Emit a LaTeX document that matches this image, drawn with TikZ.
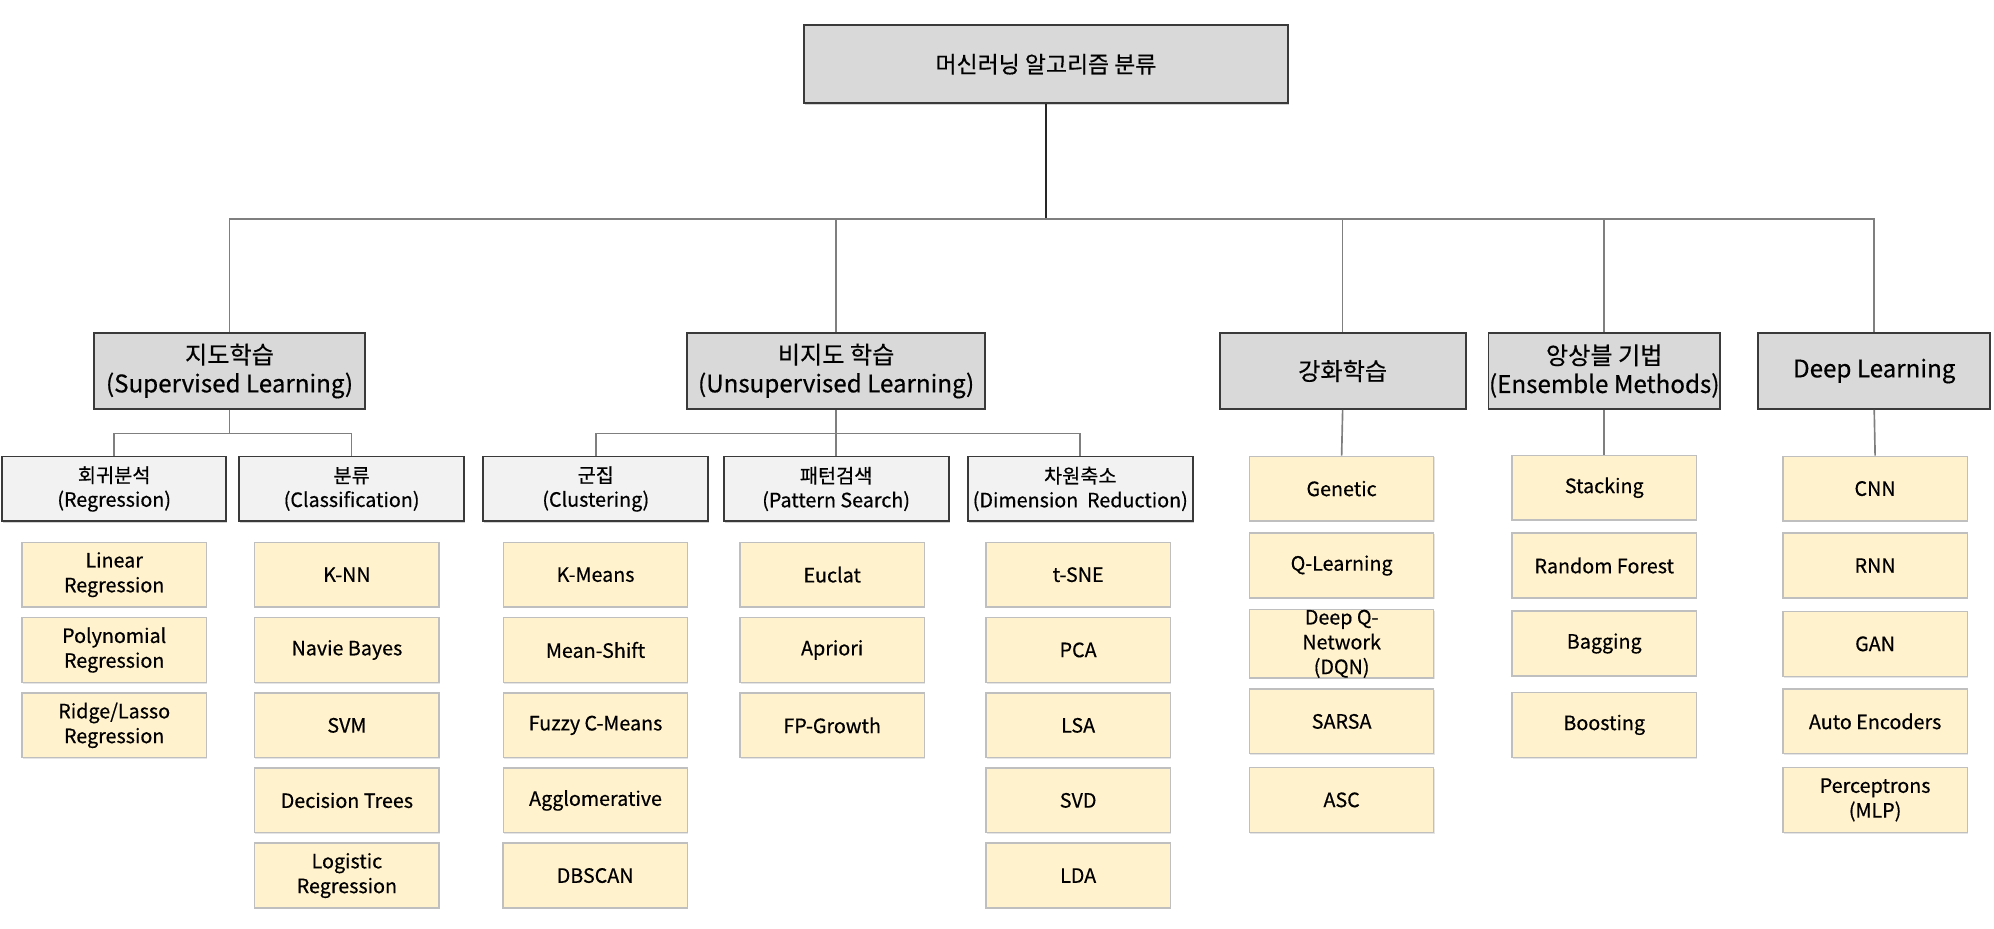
\documentclass[tikz,border=0pt]{standalone}
\usepackage{fontspec}
\setmainfont{Noto Sans CJK KR}[FakeBold=0.5]
\usetikzlibrary{shadows}
\definecolor{lvlc}{HTML}{D9D9D9}
\definecolor{subc}{HTML}{F2F2F2}
\definecolor{leafc}{HTML}{FFF2CC}
\definecolor{leafline}{HTML}{BFBFBF}
\definecolor{connc}{HTML}{7F7F7F}
\definecolor{boxline}{HTML}{3A3A3A}
\begin{document}
\begin{tikzpicture}[x=1pt,y=-1pt,
  shad/.style={drop shadow={shadow xshift=0.8pt, shadow yshift=-1.2pt, opacity=0.35, fill=black!50}},
  rootbox/.style={draw=boxline, line width=1.6pt, fill=lvlc, align=center, inner sep=0pt, shad,
     minimum width=381pt, minimum height=61pt, font=\fontsize{18}{22}\selectfont},
  lvlbox/.style={draw=boxline, line width=1.5pt, fill=lvlc, align=center, inner sep=0pt, shad,
     minimum height=59.5pt, font=\fontsize{19}{22.5}\selectfont},
  subbox/.style={draw=boxline, line width=1.5pt, fill=subc, align=center, inner sep=0pt, shad,
     minimum width=177pt, minimum height=51pt, font=\fontsize{15.5}{19}\selectfont},
  leafbox/.style={draw=leafline, line width=1pt, fill=leafc, align=center, inner sep=0pt,
     drop shadow={shadow xshift=0.6pt, shadow yshift=-1pt, opacity=0.25, fill=black!40},
     minimum width=145pt, minimum height=51pt, font=\fontsize{15.5}{19.5}\selectfont},
  conn/.style={draw=connc, line width=1.3pt},
  rootconn/.style={draw=black!85, line width=1.4pt}
]
\useasboundingbox (0,0) rectangle (1568,730);

% root
\node[rootbox] (root) at (822.5,50.5) {머신러닝 알고리즘 분류};

% level 2
\node[lvlbox, minimum width=213pt]   (sup) at (180.5,291.75) {지도학습\\(Supervised Learning)};
\node[lvlbox, minimum width=234.5pt] (uns) at (657.5,291.75) {비지도 학습\\(Unsupervised Learning)};
\node[lvlbox, minimum width=193.5pt] (rl)  at (1055.8,291.75) {강화학습};
\node[lvlbox, minimum width=182pt]   (ens) at (1261.5,291.75) {앙상블 기법\\(Ensemble Methods)};
\node[lvlbox, minimum width=182.4pt] (dl)  at (1473.8,291.75) {Deep Learning};

\coordinate (bus) at (0,172);
\draw[rootconn] (root.south) -- (root.south |- bus);
\draw[conn] (sup.north) -- (sup.north |- bus) -- (dl.north |- bus) -- (dl.north);
\draw[conn] (uns.north) -- (uns.north |- bus);
\draw[conn] (rl.north) -- (rl.north |- bus);
\draw[conn] (ens.north) -- (ens.north |- bus);

% sub boxes
\node[subbox, minimum width=176.5pt] (reg) at (89.8,384.5) {회귀분석\\(Regression)};
\node[subbox] (cls) at (276.5,384.5) {분류\\(Classification)};
\node[subbox] (clu) at (468.5,384.5) {군집\\(Clustering)};
\node[subbox] (pat) at (657.5,384.5) {패턴검색\\(Pattern Search)};
\node[subbox] (dim) at (849.5,384.5) {차원축소\\(Dimension\ \ Reduction)};

\coordinate (sbus) at (0,341);
\draw[conn] (sup.south) -- (sup.south |- sbus);
\draw[conn] (reg.north) -- (reg.north |- sbus) -- (cls.north |- sbus) -- (cls.north);
\draw[conn] (uns.south) -- (pat.north);
\draw[conn] (clu.north) -- (clu.north |- sbus) -- (dim.north |- sbus) -- (dim.north);

% leaves: regression
\node[leafbox] (r1) at (89.8,451.9) {Linear\\Regression};
\node[leafbox] (r2) at (89.8,511.1) {Polynomial\\Regression};
\node[leafbox] (r3) at (89.8,570.4) {Ridge/Lasso\\Regression};
% classification
\node[leafbox] (c1) at (272.8,451.9) {K-NN};
\node[leafbox] (c2) at (272.8,511.1) {Navie Bayes};
\node[leafbox] (c3) at (272.8,570.4) {SVM};
\node[leafbox] (c4) at (272.8,629.4) {Decision Trees};
\node[leafbox] (c5) at (272.8,688.5) {Logistic\\Regression};
% clustering
\node[leafbox] (k1) at (468.3,451.9) {K-Means};
\node[leafbox] (k2) at (468.3,511.1) {Mean-Shift};
\node[leafbox] (k3) at (468.3,570.4) {Fuzzy C-Means};
\node[leafbox] (k4) at (468.3,629.4) {Agglomerative};
\node[leafbox] (k5) at (468.0,688.5) {DBSCAN};
% pattern search
\node[leafbox] (p1) at (654.4,451.9) {Euclat};
\node[leafbox] (p2) at (654.4,511.1) {Apriori};
\node[leafbox] (p3) at (654.4,570.4) {FP-Growth};
% dimension reduction
\node[leafbox] (d1) at (847.8,451.9) {t-SNE};
\node[leafbox] (d2) at (847.8,511.1) {PCA};
\node[leafbox] (d3) at (847.8,570.4) {LSA};
\node[leafbox] (d4) at (847.8,629.4) {SVD};
\node[leafbox] (d5) at (847.8,688.5) {LDA};
% reinforcement
\node[leafbox] (q1) at (1055,384.2) {Genetic};
\node[leafbox] (q2) at (1055,444.7) {Q-Learning};
\node[leafbox] (q3) at (1055,506.3) {Deep Q-\\Network\\(DQN)};
\node[leafbox] (q4) at (1055,567.3) {SARSA};
\node[leafbox] (q5) at (1055,629) {ASC};
% ensemble
\node[leafbox] (e1) at (1261.5,383.5) {Stacking};
\node[leafbox] (e2) at (1261.5,444.7) {Random Forest};
\node[leafbox] (e3) at (1261.5,506) {Bagging};
\node[leafbox] (e4) at (1261.5,570) {Boosting};
% deep learning
\node[leafbox] (n1) at (1474.5,384.2) {CNN};
\node[leafbox] (n2) at (1474.5,444.7) {RNN};
\node[leafbox] (n3) at (1474.5,506.3) {GAN};
\node[leafbox] (n4) at (1474.5,567.3) {Auto Encoders};
\node[leafbox] (n5) at (1474.5,629) {Perceptrons\\(MLP)};

\draw[conn] (rl.south) -- (q1.north);
\draw[conn] (ens.south) -- (e1.north);
\draw[conn] (dl.south) -- (n1.north);
\end{tikzpicture}
\end{document}
